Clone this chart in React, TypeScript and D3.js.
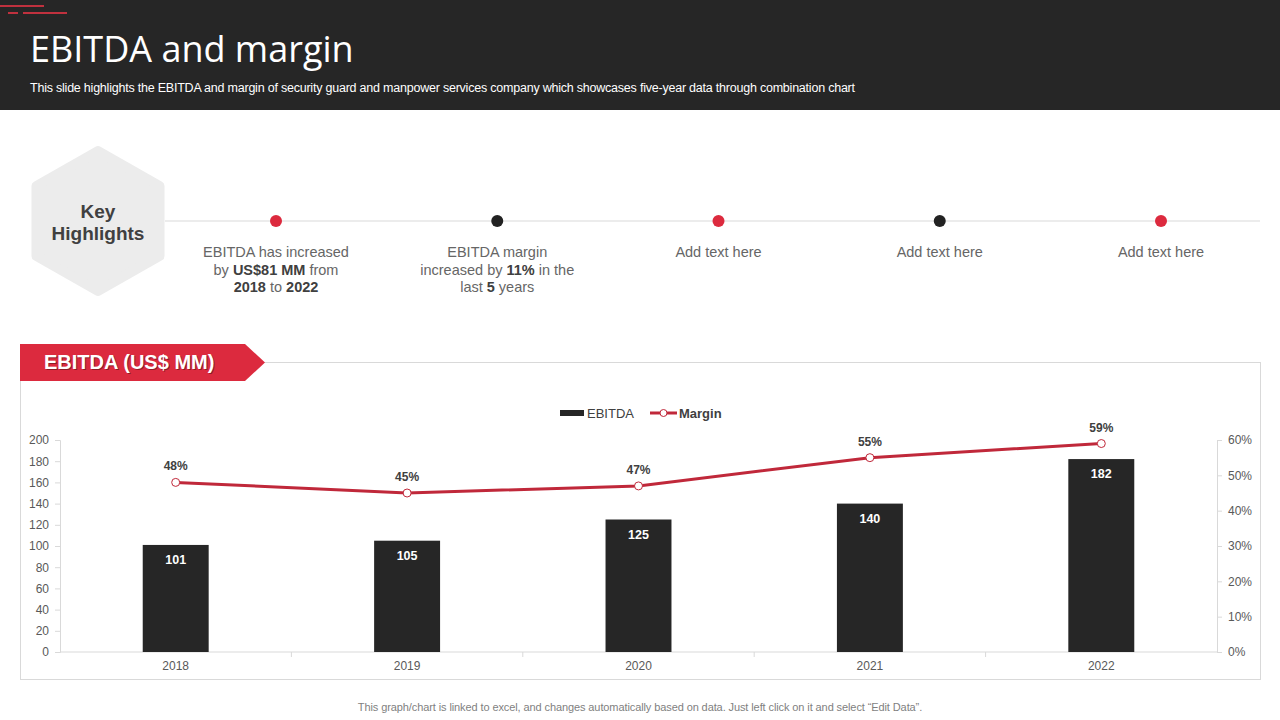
import { useRef, useEffect } from "react";
import * as d3 from "d3";

// Chart data
const years = ["2018", "2019", "2020", "2021", "2022"];
const ebitda = [101, 105, 125, 140, 182];
const margin = [48, 45, 47, 55, 59];
const leftTicks = [0, 20, 40, 60, 80, 100, 120, 140, 160, 180, 200];
const rightTicks = [0, 10, 20, 30, 40, 50, 60];

// Key highlights timeline
const highlightColors = ["#dc2a3e", "#222222", "#dc2a3e", "#222222", "#dc2a3e"];
const highlightTexts: { t: string; b?: boolean }[][][] = [
  [
    [{ t: "EBITDA has increased" }],
    [{ t: "by " }, { t: "US$81 MM", b: true }, { t: " from" }],
    [{ t: "2018", b: true }, { t: " to " }, { t: "2022", b: true }],
  ],
  [
    [{ t: "EBITDA margin" }],
    [{ t: "increased by " }, { t: "11%", b: true }, { t: " in the" }],
    [{ t: "last " }, { t: "5", b: true }, { t: " years" }],
  ],
  [[{ t: "Add text here" }]],
  [[{ t: "Add text here" }]],
  [[{ t: "Add text here" }]],
];

const RED = "#dc2a3e";
const LINE_RED = "#c0283a";
const DARK = "#262626";
const SANS = "'Liberation Sans', Arial, sans-serif";

export default function App() {
  const chartRef = useRef<HTMLDivElement>(null);

  useEffect(() => {
    if (!chartRef.current) return;
    document.body.style.margin = "0";

    d3.select(chartRef.current).selectAll("*").remove();

    const width = 1280;
    const height = 720;

    const svg = d3
      .select(chartRef.current)
      .append("svg")
      .attr("width", width)
      .attr("height", height)
      .style("display", "block")
      .style("font-family", SANS);

    svg.append("rect").attr("width", width).attr("height", height).attr("fill", "#fff");

    // Header
    svg.append("rect").attr("width", width).attr("height", 110).attr("fill", DARK);
    svg.append("line").attr("x1", 0).attr("x2", 44).attr("y1", 6).attr("y2", 6)
      .attr("stroke", "#c0313e").attr("stroke-width", 2);
    svg.append("line").attr("x1", 8).attr("x2", 18).attr("y1", 13).attr("y2", 13)
      .attr("stroke", "#c0313e").attr("stroke-width", 2);
    svg.append("line").attr("x1", 23).attr("x2", 67).attr("y1", 13).attr("y2", 13)
      .attr("stroke", "#c0313e").attr("stroke-width", 2);

    svg.append("text")
      .attr("x", 30).attr("y", 62)
      .attr("font-family", "'Open Sans', 'Noto Sans', sans-serif")
      .attr("font-size", "36px")
      .attr("fill", "#fff")
      .text("EBITDA and margin");

    svg.append("text")
      .attr("x", 30).attr("y", 92)
      .attr("font-size", "12.5px")
      .attr("letter-spacing", "-0.22px")
      .attr("fill", "#fff")
      .text("This slide highlights the EBITDA and margin of security guard and manpower services company which showcases five-year data through combination chart");

    // Key highlights hexagon
    const hexCx = 98, hexCy = 221, hexR = 70;
    const hexPts = d3.range(6).map((i) => {
      const a = (Math.PI / 3) * i - Math.PI / 2;
      return [hexCx + hexR * Math.cos(a) * 1.015, hexCy + hexR * Math.sin(a)] as [number, number];
    });
    svg.append("path")
      .attr("d", d3.line().curve(d3.curveLinearClosed)(hexPts))
      .attr("fill", "#ececec")
      .attr("stroke", "#ececec")
      .attr("stroke-width", 10)
      .attr("stroke-linejoin", "round");
    svg.append("text").attr("x", hexCx).attr("y", 218).attr("text-anchor", "middle")
      .attr("font-size", "19px").attr("font-weight", "bold").attr("fill", "#404040").text("Key");
    svg.append("text").attr("x", hexCx).attr("y", 240).attr("text-anchor", "middle")
      .attr("font-size", "19px").attr("font-weight", "bold").attr("fill", "#404040").text("Highlights");

    // Timeline
    svg.append("line").attr("x1", 165).attr("x2", 1260).attr("y1", 221).attr("y2", 221)
      .attr("stroke", "#d9d9d9").attr("stroke-width", 1);

    const hx = d3.scalePoint().domain(d3.range(5).map(String)).range([276, 1161]);
    highlightTexts.forEach((lines, i) => {
      const cx = hx(String(i)) as number;
      svg.append("circle").attr("cx", cx).attr("cy", 221).attr("r", 6).attr("fill", highlightColors[i]);
      lines.forEach((parts, li) => {
        const t = svg.append("text")
          .attr("x", cx).attr("y", 257 + li * 17.5)
          .attr("text-anchor", "middle")
          .attr("font-size", "14.5px")
          .attr("fill", "#666666");
        parts.forEach((p) => {
          t.append("tspan")
            .attr("font-weight", p.b ? "bold" : "normal")
            .attr("fill", p.b ? "#404040" : "#666666")
            .text(p.t);
        });
      });
    });

    // Chart frame
    svg.append("rect").attr("x", 20.5).attr("y", 362.5).attr("width", 1240).attr("height", 317)
      .attr("fill", "none").attr("stroke", "#d9d9d9");

    // Red banner
    svg.append("path")
      .attr("d", "M20,344 L245,344 L265,362.5 L245,381 L20,381 Z")
      .attr("fill", RED);
    svg.append("text").attr("x", 45).attr("y", 370)
      .attr("font-size", "20px").attr("font-weight", "bold").attr("fill", "#000").attr("opacity", 0.35)
      .text("EBITDA (US$ MM)");
    svg.append("text").attr("x", 44).attr("y", 369)
      .attr("font-size", "20px").attr("font-weight", "bold").attr("fill", "#fff")
      .text("EBITDA (US$ MM)");

    // Scales
    const plotLeft = 60, plotRight = 1217, plotTop = 440, plotBottom = 652;
    const x = d3.scaleBand().domain(years).range([plotLeft, plotRight])
      .paddingInner(0.715).paddingOuter(0.3575);
    const y = d3.scaleLinear().domain([0, 200]).range([plotBottom, plotTop]);
    const y2 = d3.scaleLinear().domain([0, 60]).range([plotBottom, plotTop]);

    // Left axis
    const leftAxis = d3.axisLeft(y).tickValues(leftTicks).tickSize(5).tickPadding(6);
    const gl = svg.append("g").attr("transform", `translate(${plotLeft},0)`).call(leftAxis);
    gl.select(".domain").attr("stroke", "#d9d9d9");
    gl.selectAll(".tick line").attr("stroke", "#d9d9d9");
    gl.selectAll(".tick text").attr("fill", "#595959").attr("font-size", "12px").attr("font-family", SANS);

    // Right axis
    const rightAxis = d3.axisRight(y2).tickValues(rightTicks).tickSize(5).tickPadding(6)
      .tickFormat((d) => `${d}%`);
    const gr = svg.append("g").attr("transform", `translate(${plotRight},0)`).call(rightAxis);
    gr.select(".domain").attr("stroke", "#d9d9d9");
    gr.selectAll(".tick line").attr("stroke", "#d9d9d9");
    gr.selectAll(".tick text").attr("fill", "#595959").attr("font-size", "12px").attr("font-family", SANS);

    // Bottom axis
    const step = x.step();
    svg.append("line").attr("x1", plotLeft).attr("x2", plotRight).attr("y1", plotBottom).attr("y2", plotBottom)
      .attr("stroke", "#d9d9d9");
    svg.selectAll(".xsep")
      .data(years.slice(1))
      .enter()
      .append("line")
      .attr("x1", (d) => (x(d) as number) - (step - x.bandwidth()) / 2)
      .attr("x2", (d) => (x(d) as number) - (step - x.bandwidth()) / 2)
      .attr("y1", plotBottom).attr("y2", plotBottom + 5)
      .attr("stroke", "#d9d9d9");
    svg.selectAll(".xlabel")
      .data(years)
      .enter()
      .append("text")
      .attr("x", (d) => (x(d) as number) + x.bandwidth() / 2)
      .attr("y", 670)
      .attr("text-anchor", "middle")
      .attr("font-size", "12px")
      .attr("fill", "#595959")
      .text((d) => d);

    // Bars
    svg.selectAll(".bar")
      .data(ebitda)
      .enter()
      .append("rect")
      .attr("x", (_, i) => x(years[i]) as number)
      .attr("y", (d) => y(d))
      .attr("width", x.bandwidth())
      .attr("height", (d) => plotBottom - y(d))
      .attr("fill", DARK);

    svg.selectAll(".barlabel")
      .data(ebitda)
      .enter()
      .append("text")
      .attr("x", (_, i) => (x(years[i]) as number) + x.bandwidth() / 2)
      .attr("y", (d) => y(d) + 19)
      .attr("text-anchor", "middle")
      .attr("font-size", "12.5px")
      .attr("font-weight", "bold")
      .attr("fill", "#fff")
      .text((d) => d);

    // Margin line
    const cx = (i: number) => (x(years[i]) as number) + x.bandwidth() / 2;
    const line = d3.line<number>().x((_, i) => cx(i)).y((d) => y2(d));
    svg.append("path")
      .attr("d", line(margin))
      .attr("fill", "none")
      .attr("stroke", LINE_RED)
      .attr("stroke-width", 3);

    svg.selectAll(".marker")
      .data(margin)
      .enter()
      .append("circle")
      .attr("cx", (_, i) => cx(i))
      .attr("cy", (d) => y2(d))
      .attr("r", 4)
      .attr("fill", "#fff")
      .attr("stroke", LINE_RED)
      .attr("stroke-width", 1);

    svg.selectAll(".mlabel")
      .data(margin)
      .enter()
      .append("text")
      .attr("x", (_, i) => cx(i))
      .attr("y", (d) => y2(d) - 12)
      .attr("text-anchor", "middle")
      .attr("font-size", "12px")
      .attr("font-weight", "bold")
      .attr("fill", "#404040")
      .text((d) => `${d}%`);

    // Legend
    const legend = svg.append("g").attr("transform", "translate(560,413)");
    legend.append("rect").attr("x", 0).attr("y", -3).attr("width", 24).attr("height", 6).attr("fill", DARK);
    legend.append("text").attr("x", 27).attr("y", 5).attr("font-size", "13px").attr("fill", "#404040")
      .text("EBITDA");
    legend.append("line").attr("x1", 90).attr("x2", 117).attr("y1", 0).attr("y2", 0)
      .attr("stroke", LINE_RED).attr("stroke-width", 3);
    legend.append("circle").attr("cx", 103.5).attr("cy", 0).attr("r", 3.5)
      .attr("fill", "#fff").attr("stroke", LINE_RED);
    legend.append("text").attr("x", 119).attr("y", 5).attr("font-size", "13px").attr("font-weight", "bold")
      .attr("fill", "#404040").text("Margin");

    // Footer
    svg.append("text")
      .attr("x", 640).attr("y", 711)
      .attr("text-anchor", "middle")
      .attr("font-size", "11px")
      .attr("letter-spacing", "-0.1px")
      .attr("fill", "#7f7f7f")
      .text("This graph/chart is linked to excel, and changes automatically based on data. Just left click on it and select \u201cEdit Data\u201d.");
  }, []);

  return (
    <div>
      <div ref={chartRef}></div>
    </div>
  );
}
